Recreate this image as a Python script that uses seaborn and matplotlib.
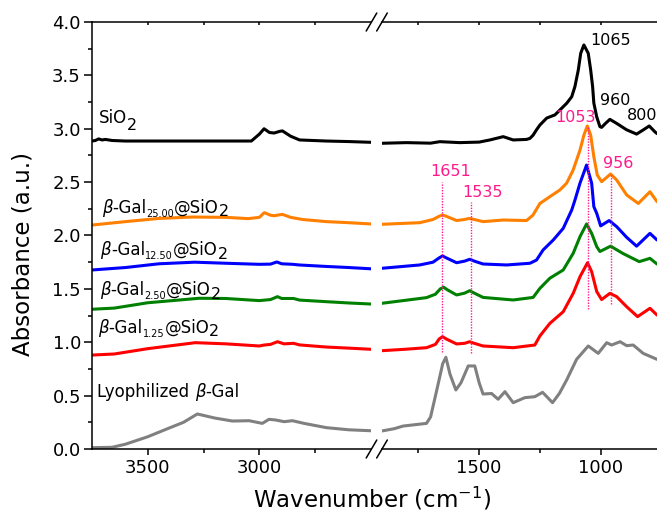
import numpy as np
import pandas as pd
import matplotlib
matplotlib.use("Agg")
import matplotlib.pyplot as plt
import seaborn as sns
from matplotlib.lines import Line2D
from matplotlib.ticker import FixedLocator, MultipleLocator, FormatStrFormatter, NullFormatter

# ---------------- data ----------------
# high-wavenumber segment (3750 -> 2500 cm-1)
sio2_hi_wn = [3750, 3735, 3720, 3705, 3690, 3660, 3600, 3400, 3200, 3100, 3036, 3000, 2979, 2955, 2934, 2910, 2897, 2860, 2820, 2700, 2600, 2500]
sio2_hi_ab = [2.885, 2.89, 2.905, 2.895, 2.90, 2.89, 2.885, 2.885, 2.885, 2.885, 2.885, 2.95, 3.00, 2.965, 2.96, 2.975, 2.98, 2.93, 2.895, 2.885, 2.88, 2.873]
g25_hi_wn = [3750, 3600, 3450, 3300, 3150, 3050, 3000, 2978, 2950, 2934, 2897, 2860, 2807, 2700, 2600, 2500]
g25_hi_ab = [2.098, 2.13, 2.16, 2.173, 2.17, 2.158, 2.17, 2.214, 2.19, 2.185, 2.198, 2.17, 2.15, 2.13, 2.12, 2.108]
g12_hi_wn = [3750, 3600, 3450, 3290, 3150, 3000, 2950, 2922, 2900, 2850, 2822, 2700, 2600, 2500]
g12_hi_ab = [1.677, 1.70, 1.735, 1.75, 1.74, 1.73, 1.732, 1.752, 1.735, 1.73, 1.724, 1.71, 1.70, 1.688]
g2_hi_wn = [3750, 3650, 3500, 3270, 3150, 3000, 2950, 2919, 2900, 2847, 2820, 2700, 2600, 2500]
g2_hi_ab = [1.309, 1.32, 1.37, 1.412, 1.41, 1.39, 1.40, 1.427, 1.41, 1.41, 1.395, 1.38, 1.368, 1.358]
g1_hi_wn = [3750, 3650, 3500, 3287, 3150, 3000, 2979, 2950, 2919, 2890, 2847, 2820, 2700, 2600, 2500]
g1_hi_ab = [0.88, 0.89, 0.94, 0.996, 0.985, 0.965, 0.974, 0.98, 1.005, 0.985, 0.99, 0.975, 0.955, 0.945, 0.934]
lyo_hi_wn = [3750, 3660, 3600, 3500, 3400, 3340, 3278, 3200, 3121, 3046, 2987, 2957, 2928, 2889, 2852, 2800, 2700, 2600, 2500]
lyo_hi_ab = [0.012, 0.016, 0.045, 0.115, 0.20, 0.25, 0.328, 0.29, 0.262, 0.265, 0.24, 0.278, 0.272, 0.256, 0.265, 0.24, 0.20, 0.18, 0.171]

# low-wavenumber segment (1900 -> 768 cm-1)
sio2_lo_wn = [1900, 1800, 1700, 1662, 1580, 1500, 1456, 1401, 1360, 1305, 1291, 1278, 1264, 1250, 1222, 1188, 1140, 1119, 1106, 1092, 1082, 1069, 1051, 1041, 1033, 1028, 1016, 1003, 996, 980, 962, 934, 893, 852, 824, 800, 776, 768]
sio2_lo_ab = [2.864, 2.87, 2.865, 2.879, 2.87, 2.875, 2.895, 2.926, 2.895, 2.90, 2.91, 2.94, 2.99, 3.035, 3.10, 3.13, 3.238, 3.30, 3.394, 3.55, 3.707, 3.785, 3.707, 3.55, 3.394, 3.24, 3.11, 3.02, 3.013, 3.05, 3.088, 3.05, 2.99, 2.95, 2.99, 3.026, 2.97, 2.955]
g25_lo_wn = [1900, 1745, 1690, 1665, 1651, 1635, 1593, 1560, 1541, 1520, 1484, 1401, 1305, 1279, 1250, 1209, 1168, 1140, 1113, 1085, 1069, 1055, 1041, 1028, 1014, 996, 959, 934, 893, 845, 797, 768]
g25_lo_ab = [2.105, 2.12, 2.15, 2.18, 2.192, 2.18, 2.14, 2.15, 2.16, 2.15, 2.13, 2.145, 2.14, 2.19, 2.30, 2.364, 2.426, 2.49, 2.614, 2.80, 2.94, 3.026, 2.94, 2.738, 2.567, 2.504, 2.576, 2.52, 2.38, 2.30, 2.41, 2.317]
g12_lo_wn = [1900, 1745, 1690, 1665, 1651, 1635, 1593, 1560, 1539, 1520, 1484, 1387, 1291, 1264, 1237, 1195, 1154, 1119, 1106, 1085, 1058, 1037, 1028, 1016, 1000, 965, 934, 893, 852, 797, 768]
g12_lo_ab = [1.693, 1.724, 1.75, 1.79, 1.808, 1.79, 1.745, 1.76, 1.777, 1.76, 1.733, 1.724, 1.74, 1.77, 1.864, 1.958, 2.067, 2.239, 2.33, 2.49, 2.66, 2.49, 2.27, 2.207, 2.09, 2.14, 2.083, 1.983, 1.90, 2.02, 1.958]
g2_lo_wn = [1900, 1717, 1680, 1660, 1646, 1630, 1593, 1560, 1539, 1520, 1484, 1360, 1278, 1250, 1209, 1154, 1113, 1085, 1058, 1037, 1016, 1003, 959, 907, 841, 797, 768]
g2_lo_ab = [1.365, 1.418, 1.45, 1.50, 1.515, 1.49, 1.443, 1.46, 1.483, 1.46, 1.42, 1.396, 1.42, 1.505, 1.60, 1.677, 1.833, 1.989, 2.108, 2.02, 1.895, 1.85, 1.90, 1.83, 1.755, 1.786, 1.733]
g1_lo_wn = [1900, 1800, 1717, 1680, 1665, 1651, 1635, 1593, 1560, 1539, 1520, 1484, 1360, 1271, 1250, 1209, 1154, 1113, 1085, 1054, 1037, 1016, 996, 962, 934, 893, 848, 797, 768]
g1_lo_ab = [0.921, 0.935, 0.949, 0.98, 1.03, 1.052, 1.03, 0.984, 0.99, 1.005, 0.99, 0.965, 0.949, 0.974, 1.059, 1.177, 1.286, 1.458, 1.614, 1.745, 1.661, 1.474, 1.40, 1.458, 1.427, 1.333, 1.24, 1.318, 1.255]
lyo_lo_wn = [1900, 1850, 1813, 1717, 1700, 1676, 1650, 1637, 1620, 1596, 1575, 1545, 1518, 1500, 1484, 1449, 1422, 1394, 1360, 1312, 1271, 1239, 1198, 1170, 1140, 1099, 1051, 1010, 975, 955, 920, 893, 866, 825, 768]
lyo_lo_ab = [0.169, 0.19, 0.215, 0.24, 0.30, 0.537, 0.80, 0.859, 0.70, 0.553, 0.62, 0.778, 0.778, 0.62, 0.515, 0.52, 0.466, 0.537, 0.434, 0.481, 0.49, 0.531, 0.434, 0.52, 0.646, 0.84, 0.965, 0.896, 0.996, 0.974, 1.005, 0.968, 0.974, 0.896, 0.84]

sample_names = ["SiO2", "Gal25.00", "Gal12.50", "Gal2.50", "Gal1.25", "Lyophilized"]
colors = ["#000000", "#FF8000", "#0000FF", "#008000", "#FF0000", "#808080"]

x_major_hi = [3500, 3000]
x_minor_hi = [3250, 2750]
x_major_lo = [1500, 1000]
x_minor_lo = [1750, 1250]

peak_black_labels = ["1065", "960", "800"]
peak_black_pos = [(1044, 3.785), (1003, 3.222), (893, 3.082)]
peak_pink_labels = ["1053", "956", "1651", "1535"]
peak_pink_pos = [(1188, 3.066), (992, 2.635), (1703, 2.557), (1571, 2.363)]
guide_wn = [1651, 1535, 1053, 956]
guide_top = [2.50, 2.31, 3.03, 2.58]
guide_bottom = [0.91, 0.90, 1.31, 1.36]

# ---------------- build tables ----------------
hi_sets = [(sio2_hi_wn, sio2_hi_ab), (g25_hi_wn, g25_hi_ab), (g12_hi_wn, g12_hi_ab),
           (g2_hi_wn, g2_hi_ab), (g1_hi_wn, g1_hi_ab), (lyo_hi_wn, lyo_hi_ab)]
lo_sets = [(sio2_lo_wn, sio2_lo_ab), (g25_lo_wn, g25_lo_ab), (g12_lo_wn, g12_lo_ab),
           (g2_lo_wn, g2_lo_ab), (g1_lo_wn, g1_lo_ab), (lyo_lo_wn, lyo_lo_ab)]

def make_df(sets):
    frames = []
    for name, (wn, ab) in zip(sample_names, sets):
        frames.append(pd.DataFrame({"wavenumber": wn, "absorbance": ab, "sample": name}))
    return pd.concat(frames, ignore_index=True)

df_hi = make_df(hi_sets)
df_lo = make_df(lo_sets)
palette = dict(zip(sample_names, colors))

# ---------------- figure ----------------
sns.set_style("ticks")
plt.rcParams["font.family"] = ["DejaVu Sans"]
plt.rcParams["mathtext.default"] = "regular"
for key in ("text.color", "axes.labelcolor", "xtick.color", "ytick.color", "axes.edgecolor"):
    plt.rcParams[key] = "black"

W, H = 657, 519
fig = plt.figure(figsize=(W / 100, H / 100), dpi=100)
y0 = 1 - 449 / H
h = (449 - 22) / H
axL = fig.add_axes([92 / W, y0, (371 - 92) / W, h])
axR = fig.add_axes([382 / W, y0, (657 - 382) / W, h])

for ax, df in ((axL, df_hi), (axR, df_lo)):
    sns.lineplot(data=df, x="wavenumber", y="absorbance", hue="sample", palette=palette,
                 sort=False, estimator=None, legend=False, linewidth=2.2, ax=ax)
    ax.set_ylim(0, 4)
    ax.set_xlabel("")
    ax.set_ylabel("")
    for s in ax.spines.values():
        s.set_linewidth(1.1)
        s.set_color("black")

axL.set_xlim(3750, 2500)
axR.set_xlim(1900, 768)

axL.xaxis.set_major_locator(FixedLocator(x_major_hi))
axL.xaxis.set_minor_locator(FixedLocator(x_minor_hi))
axR.xaxis.set_major_locator(FixedLocator(x_major_lo))
axR.xaxis.set_minor_locator(FixedLocator(x_minor_lo))

axL.yaxis.set_major_locator(MultipleLocator(0.5))
axL.yaxis.set_minor_locator(MultipleLocator(0.25))
axL.yaxis.set_major_formatter(FormatStrFormatter("%.1f"))
axL.tick_params(axis="y", which="major", length=6, width=1.1, labelsize=13, pad=2, colors="black")
axL.tick_params(axis="y", which="minor", length=3, width=1.1, colors="black")
for ax in (axL, axR):
    ax.tick_params(axis="x", which="major", length=4.5, width=1.1, labelsize=13, pad=3,
                   direction="out", colors="black")
    ax.tick_params(axis="x", which="minor", length=3, width=1.1, direction="out", colors="black")
    ax.spines["right"].set_visible(False)
    sec = ax.secondary_xaxis("top")
    sec.spines["top"].set_visible(False)
    sec.xaxis.set_major_locator(FixedLocator(ax.xaxis.get_majorticklocs()))
    sec.xaxis.set_minor_locator(FixedLocator(ax.xaxis.get_minorticklocs()))
    sec.xaxis.set_major_formatter(NullFormatter())
    sec.tick_params(axis="x", which="both", direction="in", length=2.2, width=1.1, colors="black")
axL.spines["right"].set_visible(False)
axR.spines["left"].set_visible(False)
axR.tick_params(axis="y", which="both", left=False, labelleft=False)

# break marks
def slash(xc, yc):
    dx, dy = 5.3, 9
    fig.add_artist(Line2D([(xc - dx) / W, (xc + dx) / W], [1 - (yc + dy) / H, 1 - (yc - dy) / H],
                          color="black", lw=1.1, transform=fig.transFigure))
for yc in (22, 449):
    slash(371.5, yc)
    slash(382, yc)

# axis labels
fig.text(372 / W, 1 - 507 / H, "Wavenumber (cm$^{-1}$)", ha="center", va="baseline",
         fontsize=16.5, color="black")
fig.text(23 / W, 1 - 254 / H, "Absorbance (a.u.)", ha="center", va="center", rotation=90,
         fontsize=16.5, color="black")

# curve labels built from pieces
def chain_label(ax, x, y, parts):
    first = None
    prev = None
    for text, fs, dy, italic in parts:
        style = "italic" if italic else "normal"
        if first is None:
            t = ax.annotate(text, xy=(x, y), xycoords="data", ha="left", va="baseline",
                            fontsize=fs, fontstyle=style, color="black", annotation_clip=False)
            first = t
        else:
            t = ax.annotate(text, xy=(1, 0), xycoords=(prev, first), xytext=(0, dy),
                            textcoords="offset points", ha="left", va="bottom",
                            fontsize=fs, fontstyle=style, color="black", annotation_clip=False)
        prev = t

def gal_label(y_wn, y_val, sub):
    chain_label(axL, y_wn, y_val, [("β", 12, 0, True), ("-Gal", 12, 0, False),
                                   (sub, 7, -1.6, False), ("@SiO", 12, 0, False),
                                   ("2", 11.5, -2.0, False)])

chain_label(axL, 3718, 3.051, [("SiO", 12, 0, False), ("2", 11.5, -4.2, False)])
gal_label(3706, 2.214, "25.00")
gal_label(3712, 1.817, "12.50")
gal_label(3716, 1.443, "2.50")
gal_label(3723, 1.090, "1.25")
chain_label(axL, 3726, 0.49, [("Lyophilized ", 12, 0, False), ("β", 12, 0, True), ("-Gal", 12, 0, False)])

pink = "#FF1A8C"
for wn, top, bot in zip(guide_wn, guide_top, guide_bottom):
    axR.vlines(wn, bot, top, colors=pink, linestyles=(0, (1, 1)), linewidth=1.0)
for lab, (wn, val) in zip(peak_black_labels, peak_black_pos):
    axR.text(wn, val, lab, ha="left", va="baseline", fontsize=11.5, color="black", clip_on=False)
for lab, (wn, val) in zip(peak_pink_labels, peak_pink_pos):
    axR.text(wn, val, lab, ha="left", va="baseline", fontsize=11.5, color=pink, clip_on=False)

fig.savefig("out.png", dpi=100)
